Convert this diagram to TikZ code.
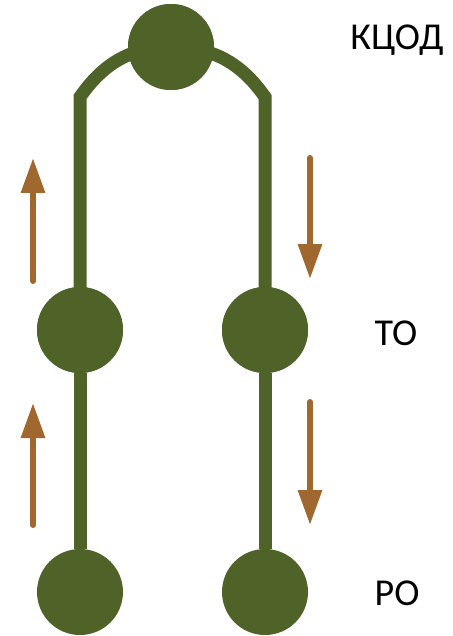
\documentclass[tikz,border=0pt]{standalone}
\usepackage{fontspec}
\setmainfont{Carlito}
\usepackage{xcolor}
\usetikzlibrary{positioning,calc,arrows.meta}
\definecolor{olive}{HTML}{4F6228}
\definecolor{rust}{HTML}{A0672F}

\begin{document}
\begin{tikzpicture}[x=1pt,y=-1pt,
	hub/.style={circle, fill=olive, minimum size=86pt, inner sep=0pt},
	link/.style={draw=olive, line width=13pt},
	flow/.style={draw=rust, line width=6pt, line cap=round, -{Triangle[width=23pt,length=35pt]}},
	lbl/.style={font=\fontsize{38}{40}\selectfont}]
	\useasboundingbox (0,0) rectangle (452,636);
	\node[hub] (kcod) at (171,47) {};
	\node[hub] (to1) at (80,330) {};
	\node[hub] (to2) at (265,330) {};
	\node[hub] (ro1) at (80,592) {};
	\node[hub] (ro2) at (265,592) {};
	\coordinate (kl) at (80,97);
	\coordinate (kr) at (265,97);
	\draw[link] (ro1) -- (to1);
	\draw[link] (ro2) -- (to2);
	\draw[link, line join=miter] (to1.center) -- (kl) to[out=55,in=180] (kcod.center);
	\draw[link, line join=miter] (to2.center) -- (kr) to[out=125,in=0] (kcod.center);
	% circles over the lines
	\node[hub] at (kcod) {};
	\node[hub] at (to1) {};
	\node[hub] at (to2) {};
	% arrows
	\coordinate (a1s) at (33,281); \coordinate (a1e) at (33,158);
	\coordinate (a2s) at (310,158); \coordinate (a2e) at (310,279);
	\coordinate (a3s) at (33,525); \coordinate (a3e) at (33,403);
	\coordinate (a4s) at (310,402); \coordinate (a4e) at (310,525);
	\draw[flow] (a1s) -- (a1e);
	\draw[flow] (a2s) -- (a2e);
	\draw[flow] (a3s) -- (a3e);
	\draw[flow] (a4s) -- (a4e);
	\node[lbl] (lkcod) at (397,40) {КЦОД};
	\node[lbl] (lto) at (396,333) {ТО};
	\node[lbl] (lro) at (397,593) {РО};
\end{tikzpicture}
\end{document}
